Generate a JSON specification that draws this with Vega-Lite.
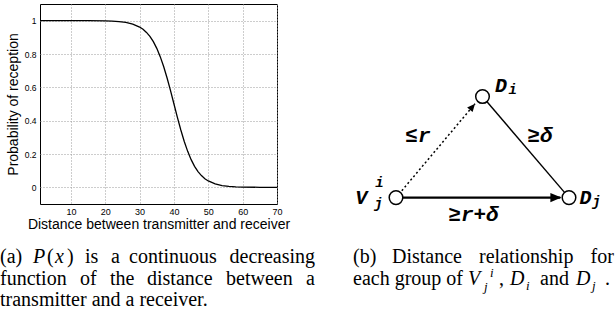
{
  "$schema": "https://vega.github.io/schema/vega-lite/v6.json",
  "padding": {"left": 0, "top": 3, "right": 0, "bottom": 0},
  "background": "white",
  "bounds": "flush",
  "spacing": 23,
  "config": {
    "view": {"stroke": null},
    "font": "Liberation Sans",
    "axis": {"labelColor": "black", "titleColor": "black", "titleFontWeight": "normal", "labelFont": "Liberation Sans", "titleFont": "Liberation Sans"}
  },
  "datasets": {
    "curve": [
      {"distance": 1, "probability": 1.0},
      {"distance": 5, "probability": 1.0},
      {"distance": 10, "probability": 0.9999},
      {"distance": 15, "probability": 0.9997},
      {"distance": 20, "probability": 0.9984},
      {"distance": 22, "probability": 0.997},
      {"distance": 24, "probability": 0.9943},
      {"distance": 26, "probability": 0.9892},
      {"distance": 28, "probability": 0.9796},
      {"distance": 30, "probability": 0.9618},
      {"distance": 31, "probability": 0.948},
      {"distance": 32, "probability": 0.9296},
      {"distance": 33, "probability": 0.9053},
      {"distance": 34, "probability": 0.8738},
      {"distance": 35, "probability": 0.8338},
      {"distance": 36, "probability": 0.7842},
      {"distance": 37, "probability": 0.7247},
      {"distance": 38, "probability": 0.6559},
      {"distance": 39, "probability": 0.5799},
      {"distance": 40, "probability": 0.5},
      {"distance": 41, "probability": 0.4201},
      {"distance": 42, "probability": 0.3441},
      {"distance": 43, "probability": 0.2753},
      {"distance": 44, "probability": 0.2158},
      {"distance": 45, "probability": 0.1662},
      {"distance": 46, "probability": 0.1262},
      {"distance": 47, "probability": 0.0947},
      {"distance": 48, "probability": 0.0704},
      {"distance": 49, "probability": 0.0519},
      {"distance": 50, "probability": 0.0382},
      {"distance": 52, "probability": 0.0204},
      {"distance": 54, "probability": 0.0108},
      {"distance": 56, "probability": 0.0057},
      {"distance": 58, "probability": 0.003},
      {"distance": 60, "probability": 0.0016},
      {"distance": 65, "probability": 0.0003},
      {"distance": 70, "probability": 0.0001}
    ],
    "nodes": [
      {"node": "V", "x": 0, "y": 0},
      {"node": "Di", "x": 5, "y": 5.84},
      {"node": "Dj", "x": 10, "y": 0}
    ],
    "edges": [
      {"edge": "VDi", "x": 0, "y": 0, "x2": 4.57, "y2": 5.43},
      {"edge": "DiDj", "x": 5, "y": 5.84, "x2": 10, "y2": 0},
      {"edge": "VDj", "x": 0, "y": 0, "x2": 9.5, "y2": 0}
    ],
    "arrows": [
      {"edge": "VDi", "x": 4.57, "y": 5.43},
      {"edge": "VDj", "x": 9.56, "y": 0}
    ],
    "labels": [
      {"text": "D", "x": 5.72, "y": 6.47, "role": "node"},
      {"text": "i", "x": 6.5, "y": 6.2, "role": "index"},
      {"text": "D", "x": 10.6, "y": 0, "role": "node"},
      {"text": "j", "x": 11.35, "y": -0.25, "role": "index"},
      {"text": "V", "x": -2.35, "y": 0, "role": "node"},
      {"text": "i", "x": -1.2, "y": 0.82, "role": "index"},
      {"text": "j", "x": -1.25, "y": -0.38, "role": "index"},
      {"text": "≤r", "x": 1.27, "y": 3.58, "role": "edge"},
      {"text": "≥δ", "x": 8.32, "y": 3.58, "role": "edge"},
      {"text": "≥r+δ", "x": 4.48, "y": -1.02, "role": "edge"}
    ],
    "captions": [
      {"text": "(a)", "x": 0, "line": 1, "role": "text"},
      {"text": "P", "x": 33, "line": 1, "role": "math"},
      {"text": "(", "x": 47, "line": 1, "role": "text"},
      {"text": "x", "x": 55, "line": 1, "role": "math"},
      {"text": ")", "x": 67, "line": 1, "role": "text"},
      {"text": "is", "x": 85, "line": 1, "role": "text"},
      {"text": "a", "x": 111, "line": 1, "role": "text"},
      {"text": "continuous", "x": 129, "line": 1, "role": "text"},
      {"text": "decreasing", "x": 229.5, "line": 1, "role": "text"},
      {"text": "function", "x": 0, "line": 2, "role": "text"},
      {"text": "of", "x": 80, "line": 2, "role": "text"},
      {"text": "the", "x": 110, "line": 2, "role": "text"},
      {"text": "distance", "x": 147, "line": 2, "role": "text"},
      {"text": "between", "x": 226, "line": 2, "role": "text"},
      {"text": "a", "x": 306, "line": 2, "role": "text"},
      {"text": "transmitter and a receiver.", "x": 0, "line": 3, "role": "text"},
      {"text": "(b)", "x": 353, "line": 1, "role": "text"},
      {"text": "Distance", "x": 392, "line": 1, "role": "text"},
      {"text": "relationship", "x": 479, "line": 1, "role": "text"},
      {"text": "for", "x": 590.5, "line": 1, "role": "text"},
      {"text": "each group of", "x": 353, "line": 2, "role": "text"},
      {"text": "V", "x": 468, "line": 2, "role": "math"},
      {"text": "i", "x": 490, "line": 1.63, "role": "index"},
      {"text": "j", "x": 484, "line": 2.3, "role": "index"},
      {"text": ",", "x": 499, "line": 2, "role": "text"},
      {"text": "D", "x": 510, "line": 2, "role": "math"},
      {"text": "i", "x": 526, "line": 2.25, "role": "index"},
      {"text": "and", "x": 540, "line": 2, "role": "text"},
      {"text": "D", "x": 576, "line": 2, "role": "math"},
      {"text": "j", "x": 592, "line": 2.25, "role": "index"},
      {"text": ".", "x": 605, "line": 2, "role": "text"}
    ]
  },
  "hconcat": [
    {
      "width": 237,
      "height": 200,
      "view": {"stroke": "black", "strokeWidth": 1},
      "data": {"name": "curve"},
      "mark": {"type": "line", "color": "black", "strokeWidth": 1.3, "clip": true},
      "encoding": {
        "x": {
          "field": "distance", "type": "quantitative",
          "scale": {"domain": [1, 70], "nice": false, "zero": false},
          "axis": {
            "values": [10, 20, 30, 40, 50, 60, 70],
            "title": "Distance between transmitter and receiver",
            "grid": true, "gridDash": [1, 2], "gridColor": "#9a9a9a", "gridWidth": 1,
            "domain": false, "ticks": false,
            "labelFontSize": 9, "labelPadding": 3, "labelFlush": false,
            "titleFontSize": 14, "titlePadding": 1
          }
        },
        "y": {
          "field": "probability", "type": "quantitative",
          "scale": {"domain": [-0.1, 1.1], "nice": false, "zero": false},
          "axis": {
            "values": [0, 0.2, 0.4, 0.6, 0.8, 1],
            "labelExpr": "format(datum.value, '~g')",
            "title": "Probability of reception",
            "grid": true, "gridDash": [1, 2], "gridColor": "#9a9a9a", "gridWidth": 1,
            "domain": false, "ticks": false,
            "labelFontSize": 8.5, "labelPadding": 4, "labelFlush": false,
            "titleFontSize": 14, "titlePadding": 4
          }
        }
      }
    },
    {
      "width": 316,
      "height": 200,
      "resolve": {"scale": {"x": "independent", "y": "independent"}},
      "layer": [
        {
          "encoding": {
            "x": {"field": "x", "type": "quantitative", "scale": {"domain": [-5.549, 12.717], "nice": false, "zero": false}, "axis": null},
            "y": {"field": "y", "type": "quantitative", "scale": {"domain": [-0.37, 11.19], "nice": false, "zero": false}, "axis": null}
          },
          "layer": [
            {
              "data": {"name": "edges"},
              "transform": [{"filter": "datum.edge === 'VDi'"}],
              "mark": {"type": "rule", "color": "black", "strokeWidth": 1.5, "strokeDash": [2, 2.5]},
              "encoding": {"x2": {"field": "x2"}, "y2": {"field": "y2"}}
            },
            {
              "data": {"name": "edges"},
              "transform": [{"filter": "datum.edge === 'DiDj'"}],
              "mark": {"type": "rule", "color": "black", "strokeWidth": 1.4},
              "encoding": {"x2": {"field": "x2"}, "y2": {"field": "y2"}}
            },
            {
              "data": {"name": "edges"},
              "transform": [{"filter": "datum.edge === 'VDj'"}],
              "mark": {"type": "rule", "color": "black", "strokeWidth": 2.2},
              "encoding": {"x2": {"field": "x2"}, "y2": {"field": "y2"}}
            },
            {
              "data": {"name": "arrows"},
              "transform": [{"filter": "datum.edge === 'VDi'"}],
              "mark": {"type": "point", "shape": "M0,0L-1,-0.45L-1,0.45Z", "filled": true, "color": "black", "opacity": 1, "size": 256, "angle": 310.6}
            },
            {
              "data": {"name": "arrows"},
              "transform": [{"filter": "datum.edge === 'VDj'"}],
              "mark": {"type": "point", "shape": "M0,0L-1,-0.42L-1,0.42Z", "filled": true, "color": "black", "opacity": 1, "size": 484, "angle": 0}
            },
            {
              "data": {"name": "nodes"},
              "mark": {"type": "point", "shape": "circle", "filled": true, "fill": "white", "stroke": "black", "strokeWidth": 1.5, "opacity": 1, "size": 185}
            },
            {
              "data": {"name": "labels"},
              "transform": [{"filter": "datum.role === 'node'"}],
              "mark": {"type": "text", "font": "Liberation Mono", "fontStyle": "italic", "fontWeight": "bold", "fontSize": 20, "align": "left", "baseline": "middle", "color": "black"},
              "encoding": {"text": {"field": "text"}}
            },
            {
              "data": {"name": "labels"},
              "transform": [{"filter": "datum.role === 'index'"}],
              "mark": {"type": "text", "font": "Liberation Mono", "fontStyle": "italic", "fontWeight": "bold", "fontSize": 14, "align": "left", "baseline": "middle", "color": "black"},
              "encoding": {"text": {"field": "text"}}
            },
            {
              "data": {"name": "labels"},
              "transform": [{"filter": "datum.role === 'edge'"}],
              "mark": {"type": "text", "font": "Liberation Mono", "fontStyle": "italic", "fontWeight": "bold", "fontSize": 21, "align": "center", "baseline": "middle", "color": "black"},
              "encoding": {"text": {"field": "text"}}
            }
          ]
        },
        {
          "data": {"name": "captions"},
          "encoding": {
            "x": {"field": "x", "type": "quantitative", "scale": {"domain": [300, 616], "nice": false, "zero": false}, "axis": null},
            "y": {"field": "line", "type": "quantitative", "scale": {"domain": [-11.047, -1.745], "reverse": true, "nice": false, "zero": false}, "axis": null},
            "text": {"field": "text"}
          },
          "layer": [
            {
              "transform": [{"filter": "datum.role === 'text'"}],
              "mark": {"type": "text", "font": "Liberation Serif", "fontSize": 20, "align": "left", "baseline": "alphabetic", "color": "black"}
            },
            {
              "transform": [{"filter": "datum.role === 'math'"}],
              "mark": {"type": "text", "font": "Liberation Serif", "fontStyle": "italic", "fontSize": 20, "align": "left", "baseline": "alphabetic", "color": "black"}
            },
            {
              "transform": [{"filter": "datum.role === 'index'"}],
              "mark": {"type": "text", "font": "Liberation Serif", "fontStyle": "italic", "fontSize": 13, "align": "left", "baseline": "alphabetic", "color": "black"}
            }
          ]
        }
      ]
    }
  ]
}
